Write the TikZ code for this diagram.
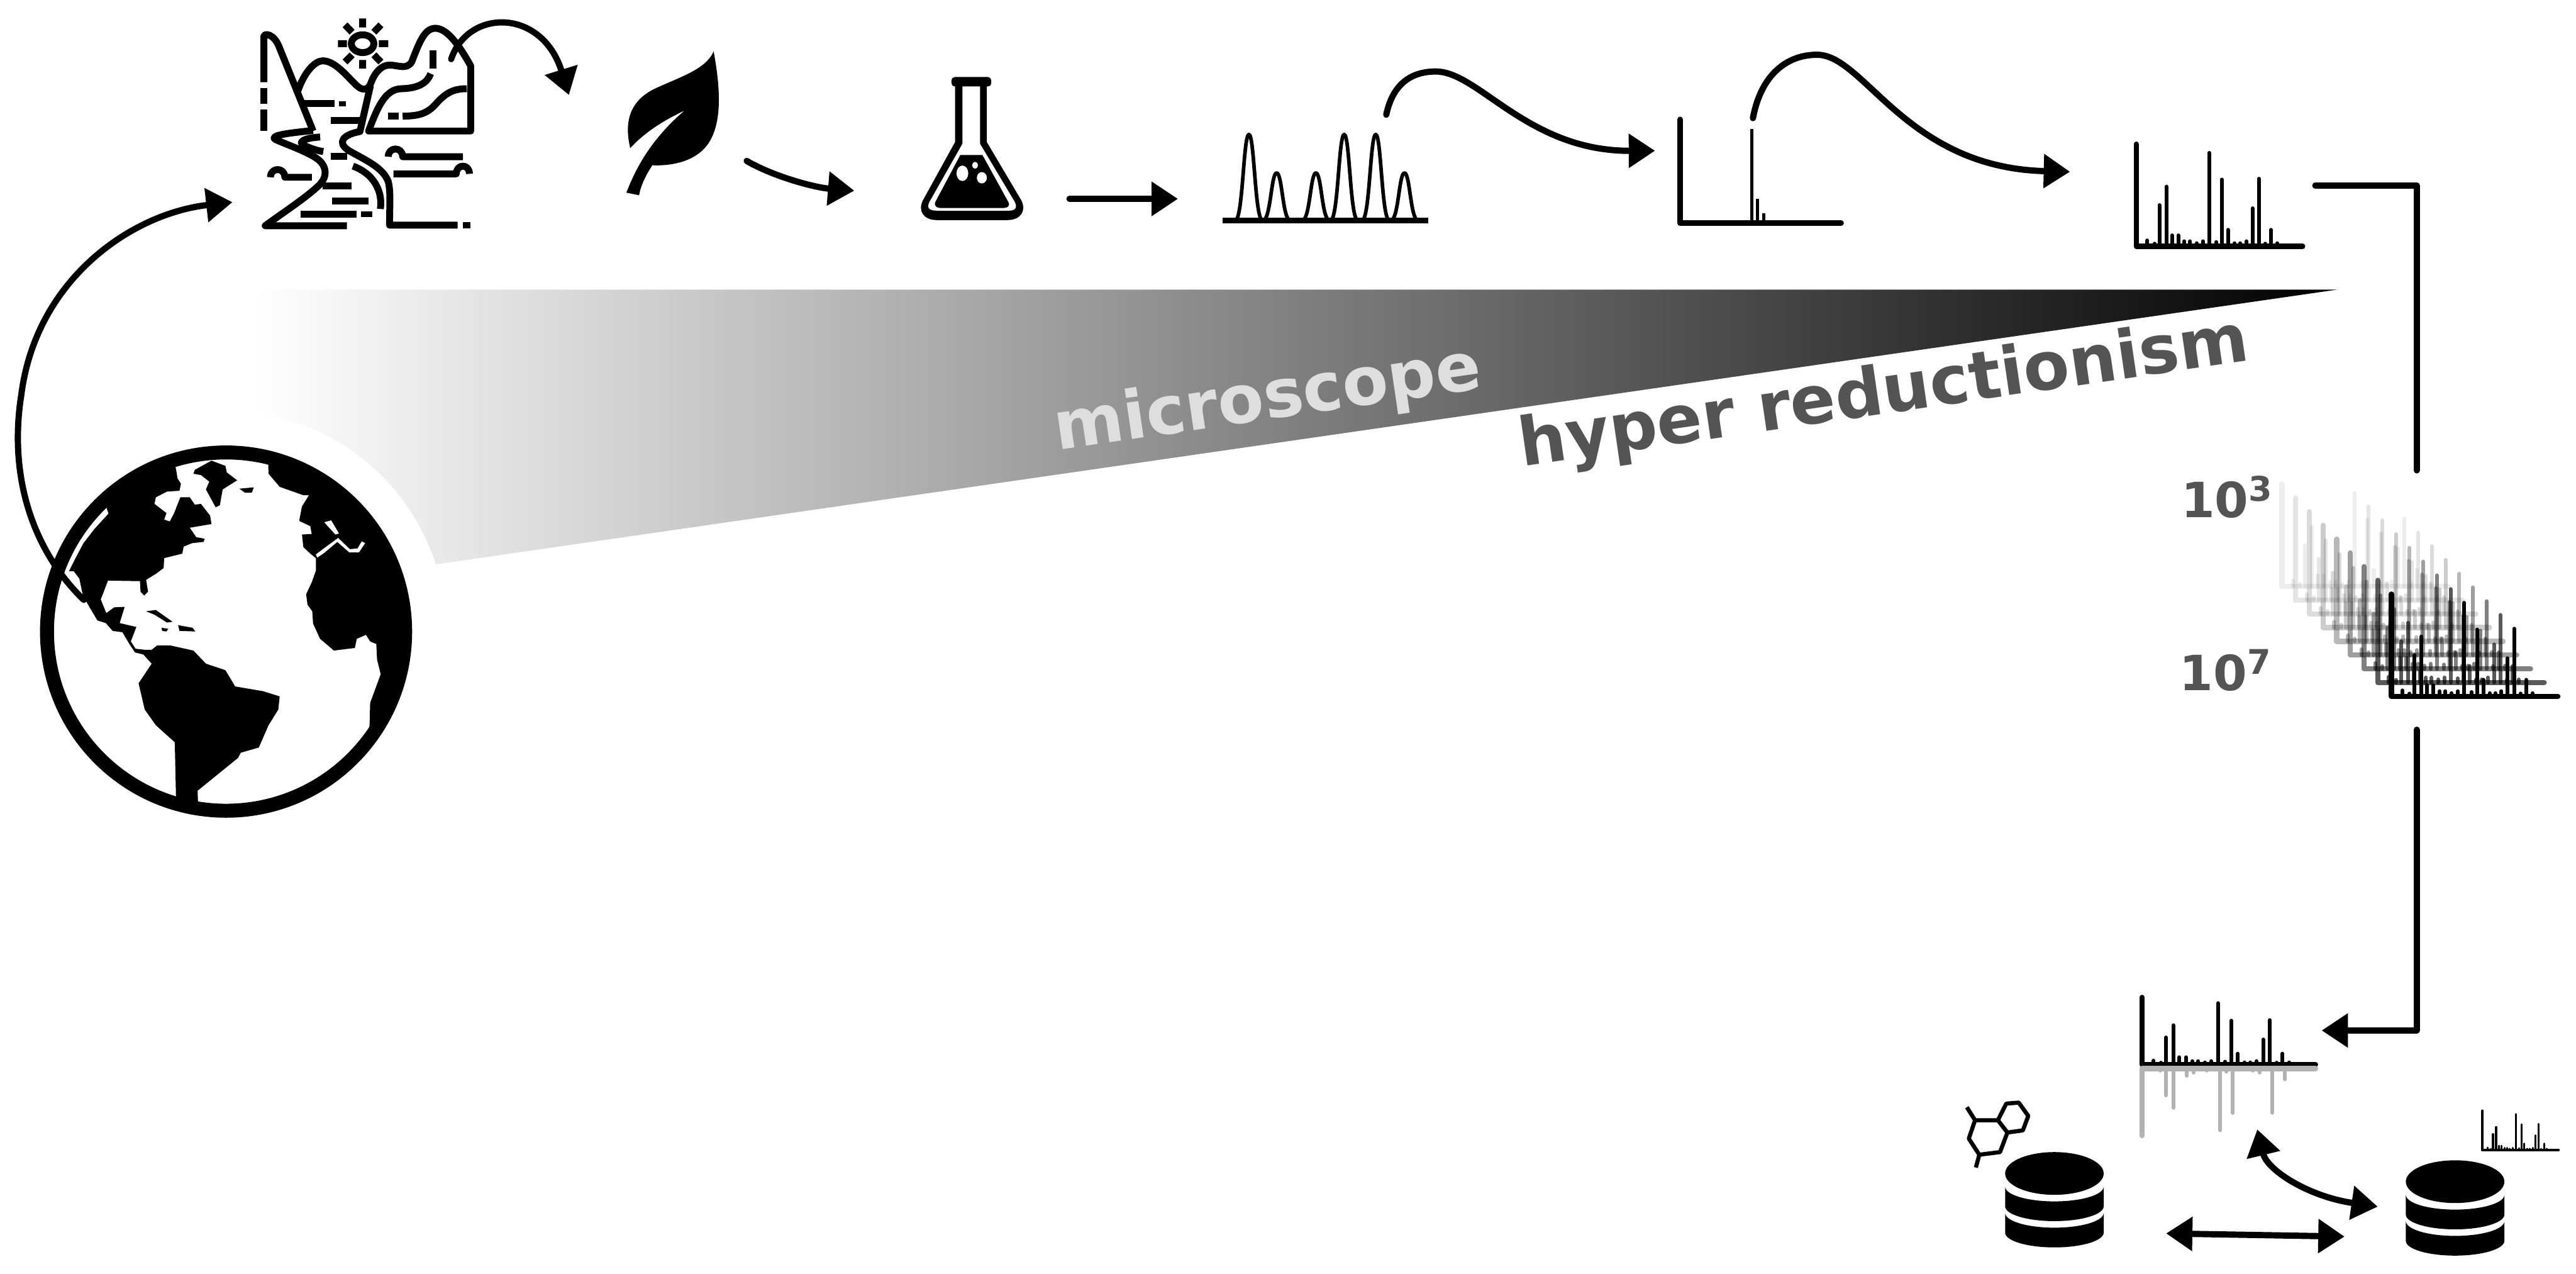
\documentclass[tikz,border=0pt]{standalone}
\usepackage{fontspec}
\setsansfont{DejaVu Sans}
\usetikzlibrary{arrows.meta}

% bar spectrum: #1 x of axis, #2 y of baseline, #3 width, #4 height, #5 extra options
\newcommand{\msspectrum}[5]{%
  \begin{scope}[shift={(#1,#2)},xscale=#3,yscale=-#4,#5]
    \draw[spaxis] (0,1) -- (0,0) -- (1,0);
    \foreach \bx/\bh in {0.067/0.058,0.109/0.027,0.139/0.404,0.181/0.585,0.215/0.108,
        0.253/0.108,0.290/0.050,0.324/0.050,0.362/0.031,0.400/0.050,0.438/0.915,
        0.480/0.042,0.514/0.654,0.552/0.162,0.590/0.031,0.625/0.031,0.661/0.050,
        0.699/0.373,0.737/0.662,0.775/0.027,0.810/0.162,0.848/0.031}
      \draw[spbar] (\bx,0) -- (\bx,\bh);
  \end{scope}}

% database cylinder: #1 centre x, #2 top y
\newcommand{\dbicon}[2]{%
  \begin{scope}[shift={(#1,#2)}]
    \fill (0,13) ellipse [x radius=30, y radius=13];
    \fill (-30,21) -- (-30,33) arc[start angle=180,end angle=0,x radius=30,y radius=9]
          -- (30,21) arc[start angle=0,end angle=180,x radius=30,y radius=9] -- cycle;
    \fill (-30,37) -- (-30,49) arc[start angle=180,end angle=0,x radius=30,y radius=9]
          -- (30,37) arc[start angle=0,end angle=180,x radius=30,y radius=9] -- cycle;
  \end{scope}}

\begin{document}
\begin{tikzpicture}[x=0.1mm,y=-0.1mm,line join=round,
  chalk/.style={line width=0.38mm,draw=black,line cap=round},
  chalkarrow/.style={chalk,-{Triangle[length=1.6mm,width=2mm]}},
  chalkboth/.style={chalk,{Triangle[length=1.6mm,width=2mm]}-{Triangle[length=1.6mm,width=2mm]}},
  spaxis/.style={line width=0.32mm,line cap=round},
  spbar/.style={line width=0.23mm,line cap=round},
  bigword/.style={font=\sffamily\bfseries\fontsize{11.6}{13}\selectfont,inner sep=0,rotate=8.3},
  powlabel/.style={font=\sffamily\bfseries\fontsize{8.4}{10}\selectfont,inner sep=0,text=black!67}]

\useasboundingbox (0,0) rectangle (1568,775);

% ---------- grey wedge ----------
\shade[left color=white,right color=black] (155,176.2) -- (1422.8,176.2) -- (155,359.3) -- cycle;
\fill[white] (137.6,384.3) circle (134);

\node[bigword,text=black!13,anchor=base west] (microscope) at (643,274) {microscope};
\node[bigword,text=black!67,anchor=base west] (hyper) at (926,284) {hyper reductionism};

% ---------- globe ----------
\begin{scope}
  \clip (137.6,384.3) circle (105);
  \begin{scope}[shift={(0,250)},xscale=0.1694,yscale=0.1594]
    % Americas
    \fill (248,612) -- (270,565) -- (300,505) -- (340,450) -- (390,392) -- (360,300) -- (500,120)
      -- (610,120) -- (632,220) -- (638,258) -- (650,278) -- (645,305) -- (600,308) -- (560,330)
      -- (555,355) -- (598,390) -- (590,415) -- (610,422) -- (625,392) -- (648,330) -- (682,330)
      -- (700,358) -- (722,355) -- (755,400) -- (760,432) -- (682,446) -- (705,482) -- (735,488)
      -- (732,500) -- (690,505) -- (660,518) -- (655,545) -- (590,562) -- (588,600) -- (560,622)
      -- (525,645) -- (532,690) -- (518,705) -- (505,690) -- (503,650) -- (388,648) -- (362,720)
      -- (382,772) -- (410,750) -- (448,748) -- (430,810) -- (490,825) -- (470,880) -- (487,908)
      -- (520,912) -- (545,912) -- (565,895) -- (610,895) -- (695,915) -- (740,965) -- (810,990)
      -- (845,1052) -- (945,1070) -- (1005,1090) -- (1000,1140) -- (965,1200) -- (930,1285)
      -- (865,1305) -- (855,1325) -- (710,1450) -- (715,1600) -- (635,1600) -- (628,1265)
      -- (560,1200) -- (520,1140) -- (498,1040) -- (545,965) -- (515,930) -- (485,922)
      -- (465,890) -- (440,845) -- (405,840) -- (380,810) -- (350,800) -- (322,750)
      -- (298,705) -- (285,640) -- (265,612) -- cycle;
    % Greenland and Iceland
    \fill (700,225) -- (760,190) -- (810,210) -- (815,235) -- (852,265) -- (800,300) -- (790,360)
      -- (775,368) -- (740,300) -- (752,270) -- (722,245) -- (695,240) -- cycle;
    \fill (860,297) -- (912,292) -- (905,312) -- (880,312) -- cycle;
    % Caribbean
    \fill (525,765) -- (560,760) -- (620,805) -- (600,808) -- (555,778) -- cycle;
    \fill (580,828) -- (605,832) -- (598,842) -- (583,840) -- cycle;
    \fill (640,818) -- (692,828) -- (702,842) -- (645,840) -- cycle;
    % Europe and Africa
    \fill (960,100) -- (965,240) -- (1005,290) -- (1090,322) -- (1110,322) -- (1085,365)
      -- (1075,420) -- (1115,440) -- (1120,470) -- (1085,472) -- (1090,520) -- (1115,545)
      -- (1135,562) -- (1135,610) -- (1120,655) -- (1100,700) -- (1105,740) -- (1122,765)
      -- (1125,812) -- (1150,870) -- (1200,915) -- (1275,905) -- (1282,870) -- (1315,855)
      -- (1330,880) -- (1352,890) -- (1355,950) -- (1368,1005) -- (1330,1115) -- (1328,1195)
      -- (1320,1300) -- (1700,1300) -- (1700,100) -- cycle;
    \fill[white] (1002,330) -- (1050,350) -- (1078,385) -- (1068,410) -- (1045,372) -- (1018,368) -- cycle;
    \fill[white] (1140,560) -- (1165,542) -- (1212,500) -- (1255,540) -- (1290,540) -- (1312,505)
      -- (1300,498) -- (1285,525) -- (1257,528) -- (1215,485) -- (1160,528) -- (1135,548) -- cycle;
    \fill[white] (1165,425) -- (1190,418) -- (1218,468) -- (1205,472) -- cycle;
  \end{scope}
\end{scope}
\draw[line width=0.85mm] (137.6,384.3) circle (109);

% ---------- landscape ----------
\begin{scope}[shift={(137.5,0)},xscale=0.1594,yscale=0.1042,line width=0.42mm]
  \draw (522,255) ellipse [x radius=43,y radius=52];
  \draw (522,108) -- (522,160) (522,350) -- (522,400) (428,255) -- (462,255) (584,255) -- (620,255)
        (455,145) -- (482,188) (592,145) -- (565,188) (455,362) -- (482,320) (592,362) -- (565,320);
  \draw (145,480) -- (145,215) .. controls (145,190) and (185,195) .. (205,280) -- (333,765);
  \draw (145,515) -- (145,605) (145,640) -- (145,765);
  \draw (275,530) .. controls (300,420) and (340,355) .. (370,355)
        .. controls (420,355) and (470,460) .. (500,500)
        .. controls (520,530) and (545,530) .. (555,480)
        .. controls (570,420) and (595,380) .. (625,380)
        .. controls (660,380) and (690,410) .. (710,360)
        .. controls (740,240) and (760,165) .. (800,165)
        .. controls (850,165) and (900,290) .. (935,385) -- (935,765) -- (545,765)
        .. controls (580,620) and (610,520) .. (670,518)
        .. controls (740,515) and (770,480) .. (782,430);
  \draw (552,500) -- (512,768) .. controls (450,785) and (420,830) .. (470,880)
        .. controls (540,940) and (600,980) .. (620,1060)
        .. controls (630,1120) and (625,1200) .. (625,1315) -- (885,1315);
  \draw (333,762) .. controls (250,775) and (160,790) .. (190,815)
        .. controls (240,850) and (340,900) .. (365,950)
        .. controls (390,1000) and (380,1050) .. (350,1090)
        .. controls (300,1160) and (220,1240) .. (150,1318) -- (462,1318);
  \draw (675,678) .. controls (740,678) and (770,660) .. (800,610)
        .. controls (840,540) and (870,518) .. (920,518);
  \draw (618,678) -- (660,678);
  \draw (790,295) -- (790,400);
  \draw (360,800) .. controls (300,805) and (270,830) .. (300,850)
        .. controls (330,870) and (350,880) .. (372,885);
  \draw (298,605) -- (415,605) (400,702) -- (512,702) (400,912) -- (462,912);
  \fill (432,590) rectangle (458,622);
  \draw (485,970) .. controls (560,1010) and (600,1110) .. (590,1220);
  \draw (170,1035) .. controls (170,975) and (225,975) .. (225,1035) -- (328,1035);
  \draw (620,915) .. controls (620,855) and (675,855) .. (675,915) -- (905,915);
  \draw (640,1015) -- (880,1015) .. controls (880,955) and (930,955) .. (930,1015);
  \draw (370,1085) -- (480,1085) (405,1175) -- (545,1175) (285,1250) -- (500,1250);
  \fill (515,1235) rectangle (560,1268);
  \fill (905,1298) rectangle (933,1335);
\end{scope}

% ---------- leaf and flask ----------
\begin{scope}[shift={(359.4,31.25)},xscale=0.1794,yscale=0.1042]
  \fill (418,0) .. controls (445,250) and (445,450) .. (390,560)
        .. controls (350,640) and (280,670) .. (210,665)
        .. controls (185,730) and (170,790) .. (165,840) -- (122,825)
        .. controls (150,700) and (200,520) .. (320,345)
        .. controls (240,410) and (180,480) .. (135,565)
        .. controls (115,420) and (130,300) .. (210,225)
        .. controls (300,150) and (390,110) .. (418,0) -- cycle;
  \fill[rounded corners=0.2mm] (1225,150) rectangle (1360,205);
  \fill (1237,195) -- (1237,530) -- (1128,870) .. controls (1110,930) and (1130,985) .. (1175,985)
        -- (1415,985) .. controls (1460,985) and (1480,930) .. (1462,870) -- (1345,530) -- (1345,195) -- cycle;
  \fill[white] (1262,205) -- (1262,540) -- (1150,880) .. controls (1140,915) and (1150,930) .. (1175,930)
        -- (1420,930) .. controls (1440,930) and (1450,915) .. (1440,880) -- (1322,540) -- (1322,205) -- cycle;
  \fill (1255,605) -- (1330,605) -- (1418,880) .. controls (1425,905) and (1415,915) .. (1395,915)
        -- (1195,915) .. controls (1175,915) and (1165,905) .. (1170,880) -- cycle;
  \fill[white] (1262,712) ellipse [x radius=20,y radius=45];
  \fill[white] (1305,665) ellipse [x radius=10,y radius=20];
  \fill[white] (1328,738) ellipse [x radius=17,y radius=33];
\end{scope}

% ---------- chromatogram ----------
\draw[line width=0.22mm] (744.3,134.2)
  foreach \c/\t in {760.2/81.8,777.1/105.2,801/105.2,818.2/81.8,837.4/81.8,854.9/105.2}
  { -- (\c-8.4,134.2) .. controls (\c-3.6,134.2) and (\c-3.4,\t) .. (\c,\t)
    .. controls (\c+3.4,\t) and (\c+3.6,134.2) .. (\c+8.4,134.2) }
  -- (869.3,134.2);
\draw[line width=0.32mm] (744.3,134.2) -- (869.3,134.2);

% ---------- single precursor spectrum ----------
\draw[line width=0.35mm,line cap=round] (1022.7,72.7) -- (1022.7,135.7) -- (1120.6,135.7);
\draw[line width=0.2mm] (1066.4,78.4) -- (1066.4,135.7) (1069.8,120.8) -- (1069.8,135.7)
  (1073.7,129.7) -- (1073.7,135.7);

% ---------- fragment spectrum ----------
\msspectrum{1300.3}{149.9}{101.3}{62.2}{}

% ---------- stack of spectra ----------
\foreach \i/\op in {0/0.07,1/0.1,2/0.14,3/0.2,4/0.28,5/0.38,6/0.5,7/0.65,8/1}
  \msspectrum{1389+8.33*\i}{356.8+8.36*\i}{101.3}{62.2}{opacity=\op};
\node[powlabel,anchor=base west] (low) at (1327,315) {10\textsuperscript{3}};
\node[powlabel,anchor=base west] (high) at (1326,420) {10\textsuperscript{7}};

% ---------- mirror plot ----------
\msspectrum{1303.8}{647.7}{105.6}{40.8}{}
\begin{scope}[shift={(1303.8,650.2)},xscale=105.6,yscale=40.8,color=black!30]
  \draw[spaxis] (0,1) -- (0,0) -- (1,0);
  \foreach \bx/\bh in {0.105/0.03,0.139/0.40,0.182/0.585,0.258/0.108,0.297/0.06,0.373/0.03,
      0.45/0.92,0.486/0.046,0.524/0.66,0.639/0.03,0.677/0.06,0.751/0.66,0.825/0.16}
    \draw[spbar] (\bx,0) -- (\bx,\bh);
\end{scope}

% ---------- library side ----------
\draw[line width=0.25mm] (1221.2,671.5) -- (1228.8,670.9) -- (1234.6,679) -- (1231.3,687.8)
  -- (1221.9,689.1) -- (1216.1,681.6) -- cycle;
\draw[line width=0.25mm] (1202.2,681.6) -- (1216.1,681.6) (1221.9,689.1) -- (1217.4,701)
  -- (1204.8,702.6) -- (1198.4,692.8) -- (1202.2,681.6);
\draw[line width=0.25mm] (1197.2,673.7) -- (1202.2,681.6) (1204.8,702.6) -- (1202.7,710.4);
\dbicon{1250.5}{701}
\dbicon{1494.4}{706}
\msspectrum{1511}{699.7}{46.3}{23.8}{spaxis/.style={line width=0.17mm,line cap=round},spbar/.style={line width=0.12mm,line cap=round}}

% ---------- connectors ----------
\coordinate (globeOut) at (51,365);
\coordinate (landIn) at (141.5,123);
\coordinate (landOut) at (274.6,36);
\coordinate (leafIn) at (346.3,57.8);
\coordinate (leafOut) at (454.5,97.9);
\coordinate (flaskIn) at (520,116);
\coordinate (flaskOut) at (651,121);
\coordinate (chromIn) at (717,121);
\coordinate (chromOut) at (843.8,69.8);
\coordinate (msOneIn) at (1007.4,91.7);
\coordinate (msOneOut) at (1067,71.9);
\coordinate (msTwoIn) at (1260,104.5);
\coordinate (msTwoOut) at (1409.3,112.8);
\coordinate (stackIn) at (1471,286.2);
\coordinate (stackOut) at (1471,444);
\coordinate (mirrorIn) at (1413.2,627);
\coordinate (mirrorLow) at (1374,687.2);
\coordinate (dbLeftR) at (1318.5,750.5);
\coordinate (dbRightL) at (1427.1,752.4);
\coordinate (dbRightT) at (1447.3,734.2);

\draw[chalkarrow] (globeOut) .. controls (20,335) and (5,290) .. (13,240)
  .. controls (22,170) and (80,130) .. (landIn);
\draw[chalkarrow] (landOut) .. controls (285,5) and (330,5) .. (leafIn);
\draw[chalkarrow] (leafOut) .. controls (470,107) and (495,114) .. (flaskIn);
\draw[chalkarrow] (flaskOut) -- (chromIn);
\draw[chalkarrow] (chromOut) .. controls (848,50) and (860,43.5) .. (874,43.5)
  .. controls (900,43.5) and (930,92) .. (msOneIn);
\draw[chalkarrow] (msOneOut) .. controls (1072,45) and (1088,33.3) .. (1106,33.3)
  .. controls (1135,33.3) and (1160,102) .. (msTwoIn);
\draw[chalk] (msTwoOut) -| (stackIn);
\draw[chalkarrow] (stackOut) |- (mirrorIn);
\draw[chalkboth] (dbLeftR) -- (dbRightL);
\draw[chalkboth] (mirrorLow) .. controls (1380,712) and (1405,728) .. (dbRightT);
\end{tikzpicture}
\end{document}
